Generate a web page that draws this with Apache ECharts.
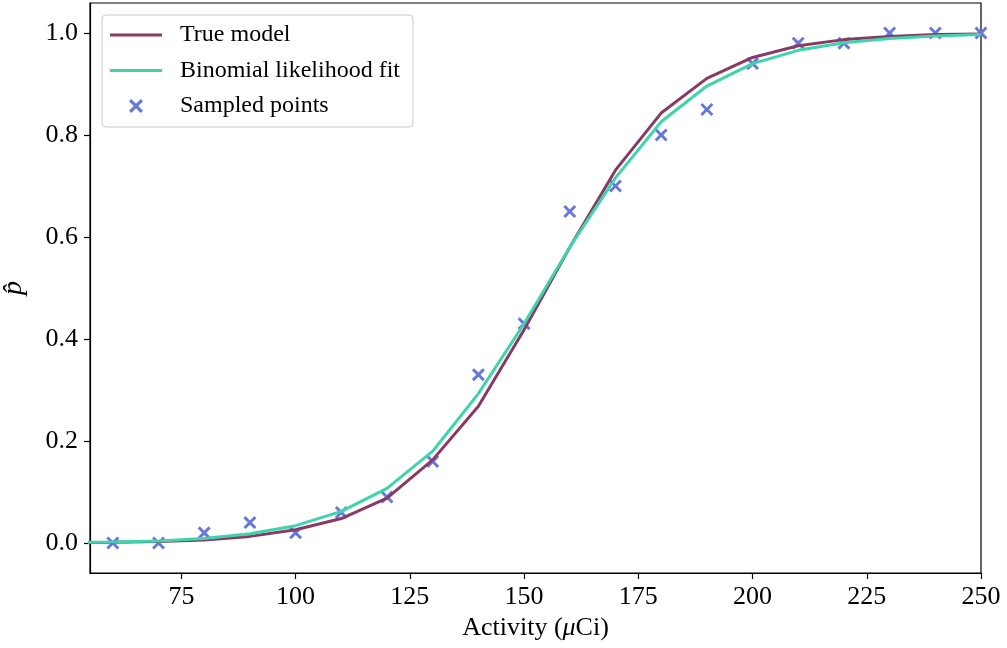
<!DOCTYPE html>
<html>
<head>
<meta charset="utf-8">
<script src="https://cdn.jsdelivr.net/npm/echarts@6/dist/echarts.min.js"></script>
<style>html,body{margin:0;padding:0;background:#fff;}#c{width:1007px;height:648px;}</style>
</head>
<body>
<div id="c"></div>
<script>
const modelX = [50, 60, 70, 80, 90, 100, 110, 120, 130, 140, 150, 160, 170, 180, 190, 200, 210, 220, 230, 240, 250];
const trueModel = [0.001, 0.0015, 0.003, 0.006, 0.013, 0.026, 0.048, 0.088, 0.163, 0.268, 0.418, 0.58, 0.731, 0.843, 0.911, 0.952, 0.975, 0.987, 0.993, 0.997, 0.998];
const binomialFit = [0.001, 0.002, 0.004, 0.009, 0.018, 0.034, 0.062, 0.107, 0.18, 0.293, 0.43, 0.58, 0.716, 0.826, 0.896, 0.94, 0.966, 0.981, 0.989, 0.994, 0.997];
const sampleX = [60, 70, 80, 90, 100, 110, 120, 130, 140, 150, 160, 170, 180, 190, 200, 210, 220, 230, 240, 250];
const sampleY = [0, 0, 0.02, 0.04, 0.02, 0.06, 0.09, 0.16, 0.33, 0.43, 0.65, 0.70, 0.80, 0.85, 0.94, 0.98, 0.98, 1.0, 1.0, 1.0];
const xTicks = [75, 100, 125, 150, 175, 200, 225, 250];
const yTicks = [0, 0.2, 0.4, 0.6, 0.8, 1.0];

const FONT = 'Liberation Serif';
const X_SYMBOL = 'path://M0,1.6L1.6,0L5,3.4L8.4,0L10,1.6L6.6,5L10,8.4L8.4,10L5,6.6L1.6,10L0,8.4L3.4,5Z';
const LINE_ICON = 'path://M0,0L52,0L52,2.8L0,2.8Z';

const chart = echarts.init(document.getElementById('c'), null, {renderer: 'canvas'});
chart.setOption({
  animation: false,
  backgroundColor: '#fff',
  grid: {left: 90, right: 26, top: 3, bottom: 75, show: true, borderColor: '#000', borderWidth: 1.2,
    containLabel: false, outerBoundsMode: 'none'},
  legend: {
    orient: 'vertical', left: 102, top: 15,
    padding: [7, 13, 8, 8],
    itemWidth: 52, itemHeight: 14, itemGap: 9.5,
    backgroundColor: 'rgba(255,255,255,0.8)', borderColor: '#cccccc', borderWidth: 1, borderRadius: 4,
    textStyle: {fontFamily: FONT, fontSize: 24, color: '#000', lineHeight: 26, padding: [0, 0, 0, 13]},
    data: [
      {name: 'True model', icon: LINE_ICON},
      {name: 'Binomial likelihood fit', icon: LINE_ICON},
      {name: 'Sampled points', icon: X_SYMBOL}
    ]
  },
  xAxis: {
    type: 'value', min: 55, max: 250,
    name: 'Activity ({i|\u03bc}Ci)', nameLocation: 'middle', nameGap: 42,
    nameTextStyle: {fontFamily: FONT, fontSize: 26, color: '#000',
      rich: {i: {fontFamily: FONT, fontSize: 26, fontStyle: 'italic', color: '#000'}}},
    axisLine: {show: true, onZero: false, lineStyle: {color: '#000', width: 1.2}},
    axisTick: {show: true, length: 6, inside: false, customValues: xTicks, lineStyle: {color: '#000', width: 1.2}},
    axisLabel: {customValues: xTicks, fontFamily: FONT, fontSize: 26, color: '#000', margin: 11},
    splitLine: {show: false}
  },
  yAxis: {
    type: 'value', min: -0.0588, max: 1.0588,
    name: 'p\u0302', nameLocation: 'middle', nameGap: 62, nameRotate: 90,
    nameTextStyle: {fontFamily: FONT, fontSize: 28, fontStyle: 'italic', color: '#000'},
    axisLine: {show: true, onZero: false, lineStyle: {color: '#000', width: 1.2}},
    axisTick: {show: true, length: 6, inside: false, customValues: yTicks, lineStyle: {color: '#000', width: 1.2}},
    axisLabel: {customValues: yTicks, fontFamily: FONT, fontSize: 26, color: '#000', margin: 12,
      formatter: v => Number(v).toFixed(1)},
    splitLine: {show: false}
  },
  series: [
    {
      name: 'True model', type: 'line', z: 3, showSymbol: false, symbol: 'none', clip: true,
      data: modelX.map((x, i) => [x, trueModel[i]]),
      lineStyle: {color: '#883a65', width: 3}, itemStyle: {color: '#883a65'}
    },
    {
      name: 'Binomial likelihood fit', type: 'line', z: 4, showSymbol: false, symbol: 'none', clip: true,
      data: modelX.map((x, i) => [x, binomialFit[i]]),
      lineStyle: {color: '#3fd4ab', width: 3}, itemStyle: {color: '#3fd4ab'}
    },
    {
      name: 'Sampled points', type: 'scatter', z: 2, symbol: X_SYMBOL, symbolSize: 13, clip: false,
      data: sampleX.map((x, i) => [x, sampleY[i]]),
      itemStyle: {color: '#6677dd', opacity: 1}
    }
  ]
});
</script>
</body>
</html>
